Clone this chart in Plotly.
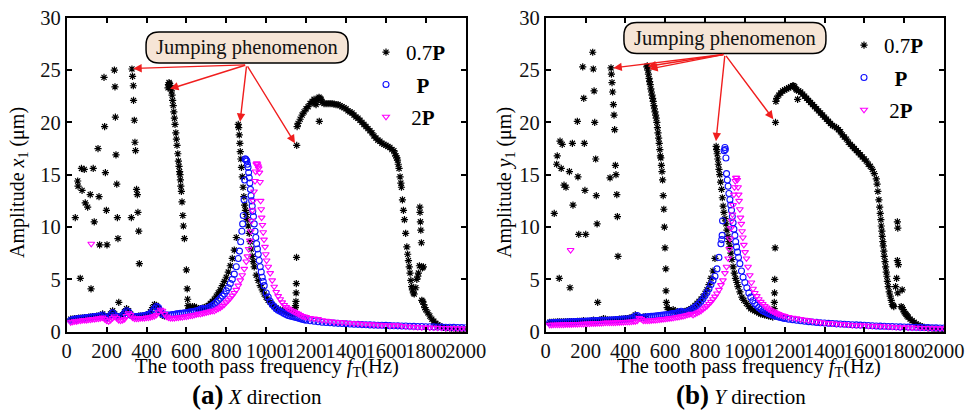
import plotly.graph_objects as go

W, H = 965, 411
SERIF = "Liberation Serif, Times New Roman, serif"


def grid(a, b, step):
    return list(range(a, b + 1, step))


def join(*segs):
    xs, ys = [], []
    for sx, sy in segs:
        assert len(sx) == len(sy), (len(sx), len(sy))
        xs += list(sx)
        ys += list(sy)
    return xs, ys


# ===================== Panel (a): X direction =====================
# --- 0.7P ---
A07_BASE_Y = [1.2, 1.2, 1.25, 1.25, 1.3, 1.3, 1.3, 1.35, 1.35, 1.4,
              1.4, 1.45, 1.45, 1.5, 1.5, 1.55, 1.7, 1.5, 1.3, 1.4,
              1.7, 2.0, 1.7, 1.5, 1.45, 1.5, 1.6, 1.9, 2.2, 2.0,
              1.7, 1.5, 1.45, 1.45, 1.5, 1.5, 1.5, 1.55, 1.6, 1.7,
              1.9, 2.3, 2.6, 2.5, 2.2, 1.8, 1.6, 1.5, 1.5]          # f = 20..500 step 10
A07_LOW_X = [43, 55, 57, 68, 74, 77, 88, 93, 105, 118, 122, 133, 138, 157, 162, 165, 187, 190, 194, 199, 202,
             239, 242, 244, 247, 251, 254, 257, 261, 324, 327, 330, 334, 335, 339, 342, 345, 350, 354, 357, 361, 364]
A07_LOW_Y = [10.9, 14.4, 13.9, 5.1, 15.6, 13.5, 15.5, 12.3, 11.9, 13.1, 4.1, 15.6, 10.5, 17.5, 12.9, 8.3, 24.3, 19.6, 15.2, 11.6, 8.3,
             25.0, 23.4, 20.5, 16.9, 14.1, 10.9, 8.9, 2.8, 10.9, 25.1, 24.4, 23.5, 22.1, 20.2, 18.1, 17.3, 13.6, 13.1, 11.4, 9.6, 6.5]
A07_DESC_X = [508, 510, 513, 516, 519, 522, 525, 528, 531, 534, 537, 540, 543, 547, 550, 553, 557, 560, 563, 566,
              568, 570, 572, 575, 578, 582, 585, 590, 600, 604, 606, 608, 612]
A07_DESC_Y = [23.3, 23.6, 23.8, 23.7, 23.5, 23.3, 23.0, 22.6, 22.1, 21.6, 21.0, 20.4, 19.8, 19.0, 18.4, 17.8, 17.0, 16.3, 15.8, 15.3,
              15.0, 14.5, 13.9, 13.4, 12.4, 11.1, 10.1, 8.9, 5.9, 4.1, 3.1, 2.5, 2.2]
A07_MID_Y = [2.3, 2.4, 2.4, 2.3, 2.2, 2.2, 2.25, 2.3, 2.4, 2.5,
             2.7, 2.9, 3.1, 3.4, 3.7, 4.0, 4.4, 4.8, 5.2, 5.7,
             6.3, 7.0, 7.8, 9.0]                                      # f = 620..850 step 10
A07_PEAK_X = [860, 862, 865, 868, 870, 873, 876, 880, 884, 888, 892, 896, 900, 905, 910, 915, 920, 925, 930, 935,
              940, 950, 960, 970, 980, 990, 1000]
A07_PEAK_Y = [19.8, 19.5, 18.8, 18.0, 17.2, 16.5, 15.7, 14.8, 13.8, 12.9, 12.1, 11.6, 11.2, 10.7, 10.1, 9.4, 8.6, 7.9, 7.2, 6.7,
              6.2, 5.4, 4.9, 4.4, 4.0, 3.6, 3.3]
A07_LOWTAIL_Y = [3.0, 2.8, 2.6, 2.4, 2.25, 2.15, 2.05, 2.0, 1.95, 1.9, 1.85, 1.8, 1.75, 1.7]  # f = 1010..1140
A07_JUMP_X = [1146, 1147, 1149, 1150, 1151, 1152]
A07_JUMP_Y = [2.3, 2.5, 2.9, 3.7, 4.6, 7.1]
A07_UP_X = [1153, 1155, 1160, 1170, 1180, 1190, 1200, 1210, 1220, 1230, 1240, 1245, 1250, 1255, 1260, 1265, 1266, 1270, 1275, 1280]
A07_UP_Y = [17.8, 19.6, 19.9, 20.3, 20.7, 21.0, 21.3, 21.5, 21.8, 22.0, 22.2, 21.8, 21.7, 22.1, 22.3, 22.4, 20.1, 22.3, 22.2, 21.9]
A07_PLAT_Y = [21.8, 21.8, 21.8, 21.8, 21.8, 21.75, 21.7, 21.7, 21.6, 21.5,
              21.4, 21.3, 21.1, 21.0, 20.9, 20.7, 20.5, 20.4, 20.2, 20.0,
              19.8, 19.6, 19.4, 19.2, 19.0, 18.7, 18.5, 18.3, 18.2, 18.0,
              17.9, 17.8, 17.7, 17.6, 17.4, 17.3]                    # f = 1290..1640 step 10
A07_DROP_X = [1645, 1650, 1655, 1658, 1662, 1666, 1671, 1675, 1678, 1683, 1688, 1693, 1699, 1705, 1709, 1713, 1717,
              1721, 1725, 1729, 1733, 1738, 1742]
A07_DROP_Y = [17.0, 16.8, 16.6, 16.4, 16.0, 15.6, 14.8, 14.2, 13.8, 12.6, 11.6, 10.7, 9.4, 8.1, 7.4, 6.8, 6.2,
              5.6, 4.9, 4.3, 4.0, 3.7, 3.6]
A07_BR2_X = [1750, 1755, 1760, 1763, 1768, 1770, 1771, 1773, 1775, 1778, 1783, 1788]
A07_BR2_Y = [4.2, 5.0, 5.3, 5.6, 6.3, 11.9, 11.4, 10.5, 9.7, 8.5, 6.1, 6.2]
A07_TAIL_X = [1780, 1785, 1790, 1795, 1800, 1810, 1820, 1830, 1840, 1850, 1860, 1870, 1880, 1890, 1900, 1920, 1940, 1960, 1980, 2000]
A07_TAIL_Y = [3.0, 2.9, 2.6, 2.3, 2.1, 1.8, 1.5, 1.2, 1.0, 0.8, 0.65, 0.55, 0.45, 0.4, 0.35, 0.3, 0.25, 0.22, 0.2, 0.2]

# --- P ---
A1_LOW_Y = [1.1, 1.15, 1.2, 1.2, 1.25, 1.25, 1.3, 1.3, 1.35, 1.35,
            1.4, 1.4, 1.45, 1.45, 1.5, 1.5, 1.6, 1.4, 1.3, 1.4,
            1.6, 1.8, 1.6, 1.45, 1.4, 1.45, 1.55, 1.8, 2.0, 1.9,
            1.6, 1.5, 1.45, 1.45, 1.45, 1.5, 1.5, 1.55, 1.6, 1.65,
            1.75, 1.95, 2.2, 2.4, 2.3, 2.0, 1.7, 1.6, 1.6, 1.6,
            1.6, 1.65, 1.65, 1.7, 1.7, 1.75, 1.75, 1.8, 1.8, 1.85,
            1.9, 1.9, 1.95, 2.0, 2.05, 2.15, 2.2, 2.15, 2.2, 2.3,
            2.4, 2.5, 2.65, 2.8, 3.0, 3.2, 3.4, 3.6, 3.9, 4.2,
            4.6, 5.0, 5.5, 6.2, 7.0]                                  # f = 20..860 step 10
A1_PEAK_X = [866, 872, 878, 882, 885, 889, 892, 894, 897, 900, 903, 906, 909, 912, 915, 918, 921, 924, 927, 930,
             933, 936, 940, 944, 948, 952, 956, 960, 965, 970, 975, 980, 985, 990, 1000]
A1_PEAK_Y = [7.7, 8.6, 9.6, 10.3, 11.1, 12.6, 14.5, 16.5, 16.5, 16.4, 16.3, 16.0, 15.7, 15.2, 14.7, 14.2, 13.6, 13.0, 12.5, 12.0,
             11.5, 11.0, 10.3, 9.6, 9.0, 8.4, 7.9, 7.4, 6.8, 6.2, 5.7, 5.2, 4.8, 4.4, 3.7]
A1_MID_Y = [3.3, 2.9, 2.6, 2.4, 2.2, 2.05, 1.95, 1.85, 1.75, 1.65,
            1.55, 1.5, 1.45, 1.4, 1.35, 1.3, 1.25, 1.2, 1.15, 1.1]   # f = 1010..1200 step 10
A1_TAIL_Y = [1.05, 1.0, 0.95, 0.9, 0.88, 0.85, 0.82, 0.8, 0.78, 0.75,
             0.73, 0.71, 0.7, 0.68, 0.66, 0.65, 0.63, 0.62, 0.61, 0.6,
             0.58, 0.57, 0.56, 0.55, 0.54, 0.52, 0.51, 0.5, 0.49, 0.48,
             0.47, 0.46, 0.45, 0.44, 0.43, 0.42, 0.41, 0.4, 0.39, 0.38]  # f = 1220..2000 step 20

# --- 2P ---
A2_OUT_X = [123]
A2_OUT_Y = [8.4]
A2_LOW_Y = [0.9, 0.95, 1.0, 1.0, 1.05, 1.05, 1.1, 1.1, 1.1, 1.15,
            1.15, 1.2, 1.2, 1.25, 1.25, 1.3, 1.35, 1.2, 1.05, 1.0,
            1.1, 1.3, 1.45, 1.3, 1.1, 1.05, 1.1, 1.2, 1.5, 1.75,
            1.6, 1.35, 1.25, 1.25, 1.25, 1.3, 1.3, 1.3, 1.35, 1.35,
            1.4, 1.45, 1.5, 1.6, 1.85, 2.1, 2.0, 1.7, 1.45, 1.35,
            1.3, 1.3, 1.3, 1.35, 1.35, 1.4, 1.4, 1.45, 1.45, 1.5,
            1.55, 1.55, 1.6, 1.65, 1.7, 1.7, 1.75, 1.8, 1.85, 1.9,
            1.95, 2.0, 2.0, 2.1, 2.2, 2.3, 2.45, 2.6, 2.8, 3.0,
            3.2, 3.45, 3.7, 4.0, 4.4, 4.9, 5.4, 6.0, 6.7]             # f = 20..900 step 10
A2_PEAK_X = [906, 912, 918, 923, 927, 931, 935, 939, 944, 947, 950, 953, 956, 959, 962, 966, 969, 972, 975, 977,
             981, 985, 989, 994, 998, 1002]
A2_PEAK_Y = [7.2, 7.9, 8.7, 9.6, 10.6, 11.6, 12.5, 13.4, 14.4, 15.3, 16.0, 16.1, 16.0, 15.8, 15.6, 15.2, 14.3, 12.5, 11.7, 10.9,
             10.2, 9.5, 8.8, 8.1, 7.4, 6.8]
A2_MID_Y = [6.2, 5.6, 4.9, 4.3, 3.8, 3.4, 3.1, 2.8, 2.55, 2.35,
            2.2, 2.1, 2.0, 1.9, 1.8, 1.7, 1.6, 1.5, 1.45, 1.4]       # f = 1010..1200 step 10
A2_TAIL_Y = [1.3, 1.25, 1.2, 1.1, 1.05, 1.0, 0.95, 0.92, 0.9, 0.86,
             0.83, 0.8, 0.78, 0.75, 0.72, 0.7, 0.68, 0.65, 0.63, 0.6,
             0.58, 0.6, 0.62, 0.55, 0.5, 0.48, 0.46, 0.44, 0.42, 0.4,
             0.39, 0.38, 0.37, 0.36, 0.35, 0.34, 0.33, 0.32, 0.31, 0.3]   # f = 1220..2000 step 20

# ===================== Panel (b): Y direction =====================
B07_BASE_Y = [0.9, 0.9, 0.92, 0.92, 0.93, 0.93, 0.94, 0.94, 0.95, 0.95,
              0.96, 0.96, 0.97, 0.97, 0.98, 0.98, 1.0, 1.05, 1.0, 0.98,
              1.0, 1.05, 1.1, 1.05, 1.05, 1.1, 1.15, 1.25, 1.2, 1.1,
              1.1, 1.1, 1.1, 1.15, 1.15, 1.2, 1.2, 1.2, 1.25, 1.25,
              1.3, 1.35, 1.45, 1.6, 1.5, 1.35, 1.35, 1.4, 1.45]       # f = 20..500 step 10
B07_LOW_X = [43, 55, 58, 68, 72, 78, 83, 92, 102, 119, 122, 134, 137, 159, 162, 166, 186, 191, 194, 197, 201,
             236, 239, 243, 246, 251, 254, 258, 261, 323, 328, 330, 333, 336, 340, 343, 346, 350, 353, 357, 360, 363]
B07_LOW_Y = [11.3, 16.0, 16.8, 5.1, 18.2, 15.6, 17.9, 14.0, 13.8, 15.3, 4.2, 18.0, 12.1, 20.1, 14.8, 9.3, 25.3, 22.3, 18.0, 13.5, 9.3,
             26.7, 25.1, 23.0, 20.0, 16.5, 13.0, 10.3, 2.8, 14.7, 25.2, 24.6, 23.8, 22.9, 21.7, 20.7, 19.3, 15.9, 15.0, 13.1, 11.0, 7.2]
B07_DESC_X = [508, 510, 513, 516, 519, 522, 525, 528, 531, 534, 537, 540, 543, 546, 549, 552, 555, 558, 561, 564,
              567, 570, 573, 576, 578, 581, 584, 587, 590, 593, 596, 599, 603, 604, 606]
B07_DESC_Y = [25.3, 25.4, 25.0, 24.6, 24.2, 23.9, 23.6, 23.2, 22.9, 22.6, 22.3, 22.0, 21.6, 21.3, 21.0, 20.7, 20.4, 20.0, 19.5, 19.0,
              18.5, 18.0, 17.4, 16.8, 16.6, 15.9, 15.3, 14.5, 13.0, 11.7, 10.0, 8.0, 6.0, 3.9, 2.8]
B07_MID_Y = [2.3, 2.1, 2.0, 2.1, 2.0, 1.9, 1.85, 1.85, 1.9, 1.95,
             2.0, 2.1, 2.2, 2.35, 2.5, 2.7, 2.9, 3.1, 3.35, 3.65,
             4.0, 4.5, 5.1, 5.8, 7.0]                                 # f = 610..850 step 10
B07_PEAK_X = [856, 858, 861, 864, 867, 870, 874, 878, 883, 887, 891, 895, 900, 905, 910, 915, 920, 925, 930, 935,
              941, 947, 953, 960, 966, 975, 985, 995, 1008]
B07_PEAK_Y = [17.7, 17.4, 17.0, 16.5, 16.0, 15.5, 15.0, 14.3, 13.6, 12.8, 12.0, 11.4, 10.8, 10.3, 9.7, 9.1, 8.6, 8.1, 7.5, 6.9,
              6.2, 5.6, 5.1, 4.7, 4.3, 3.8, 3.3, 3.0, 2.7]
B07_LOWTAIL_Y = [2.4, 2.2, 2.1, 2.0, 1.9, 1.8, 1.7, 1.65, 1.6, 1.55, 1.5, 1.45, 1.4]  # f = 1020..1140
B07_JUMP_X = [1145, 1147, 1148, 1149, 1150, 1152, 1154]
B07_JUMP_Y = [1.8, 2.2, 2.8, 3.7, 5.0, 8.0, 20.0]
B07_UP_X = [1156, 1160, 1170, 1180, 1190, 1200, 1210, 1220, 1230, 1240, 1245, 1250, 1255, 1260, 1265, 1270, 1280]
B07_UP_Y = [22.0, 22.3, 22.6, 22.8, 23.0, 23.1, 23.2, 23.3, 23.4, 23.5, 23.5, 23.4, 23.2, 23.1, 22.2, 23.0, 22.9]
B07_PLAT_Y = [22.7, 22.5, 22.3, 22.1, 21.9, 21.7, 21.5, 21.3, 21.1, 20.9,
              20.7, 20.5, 20.3, 20.1, 19.9, 19.7, 19.6, 19.5, 19.3, 19.1,
              18.8, 18.6, 18.4, 18.1, 17.9, 17.7, 17.5, 17.3, 17.1, 16.9,
              16.7, 16.5, 16.3, 16.0, 15.8, 15.5, 15.1, 14.6]        # f = 1290..1660 step 10
B07_DROP_X = [1664, 1668, 1673, 1677, 1680, 1683, 1685, 1688, 1690, 1693, 1695, 1698, 1700, 1704, 1707, 1710, 1713,
              1716, 1720, 1725, 1730, 1735, 1740, 1745, 1748]
B07_DROP_Y = [14.1, 13.4, 12.6, 11.9, 11.3, 10.7, 10.1, 9.6, 9.1, 8.6, 8.2, 7.7, 7.2, 6.7, 6.2, 5.7, 5.3,
              4.8, 4.3, 3.8, 3.4, 3.0, 2.6, 2.5, 2.4]
B07_BR2_X = [1757, 1762, 1766, 1768, 1766, 1771, 1768, 1790]
B07_BR2_Y = [4.3, 5.1, 6.8, 3.7, 10.5, 6.4, 9.9, 4.0]
B07_TAIL_X = [1785, 1790, 1795, 1800, 1805, 1810, 1815, 1820, 1830, 1840, 1850, 1860, 1870, 1880, 1890, 1900,
              1920, 1940, 1960, 1980, 2000]
B07_TAIL_Y = [2.4, 2.3, 2.1, 1.9, 1.75, 1.65, 1.5, 1.4, 1.2, 1.05, 0.9, 0.75, 0.62, 0.55, 0.48, 0.42,
              0.34, 0.28, 0.24, 0.2, 0.17]

B1_LOW_Y = [0.85, 0.86, 0.87, 0.88, 0.89, 0.9, 0.9, 0.91, 0.92, 0.93,
            0.94, 0.94, 0.95, 0.96, 0.97, 0.98, 0.99, 1.0, 1.0, 1.01,
            1.02, 1.03, 1.04, 1.05, 1.06, 1.07, 1.08, 1.1, 1.1, 1.1,
            1.11, 1.12, 1.13, 1.14, 1.15, 1.16, 1.18, 1.2, 1.21, 1.22,
            1.24, 1.27, 1.35, 1.5, 1.55, 1.4, 1.35, 1.37, 1.4, 1.42,
            1.44, 1.46, 1.48, 1.5, 1.52, 1.55, 1.57, 1.6, 1.62, 1.65,
            1.67, 1.7, 1.73, 1.76, 1.8, 1.9, 1.95, 1.85, 1.85, 1.9,
            2.0, 2.1, 2.2, 2.35, 2.5, 2.7, 2.9, 3.15, 3.45, 3.75,
            4.1, 4.5, 4.9, 5.3, 6.0, 7.1, 8.4]                        # f = 20..880 step 10
B1_PEAK_X = [884, 886, 888, 896, 900, 902, 905, 908, 912, 916, 920, 925, 929, 933, 937, 941, 945, 950, 954, 958,
             963, 968, 975, 983, 991, 1000]
B1_PEAK_Y = [8.8, 9.2, 10.6, 17.3, 17.6, 17.4, 16.6, 15.1, 14.5, 13.9, 13.2, 12.6, 12.1, 11.6, 11.0, 10.4, 9.8, 9.2, 8.6, 8.1,
             7.6, 7.1, 6.5, 5.8, 5.2, 4.7]
B1_MID_Y = [4.2, 3.7, 3.3, 2.95, 2.7, 2.5, 2.3, 2.15, 2.0, 1.9,
            1.8, 1.72, 1.65, 1.58, 1.52, 1.46, 1.41, 1.36, 1.31, 1.27]  # f = 1010..1200 step 10
B1_TAIL_Y = [1.2, 1.15, 1.1, 1.05, 1.0, 0.96, 0.92, 0.89, 0.86, 0.83,
             0.8, 0.78, 0.75, 0.73, 0.71, 0.69, 0.67, 0.65, 0.63, 0.61,
             0.59, 0.57, 0.55, 0.53, 0.52, 0.5, 0.49, 0.48, 0.46, 0.45,
             0.44, 0.43, 0.42, 0.41, 0.4, 0.39, 0.38, 0.37, 0.36, 0.35]  # f = 1220..2000 step 20

B2_OUT_X = [125]
B2_OUT_Y = [7.8]
B2_LOW_Y = [0.65, 0.66, 0.67, 0.67, 0.68, 0.68, 0.69, 0.69, 0.7, 0.7,
            0.71, 0.71, 0.72, 0.72, 0.73, 0.74, 0.75, 0.75, 0.76, 0.77,
            0.78, 0.79, 0.8, 0.8, 0.81, 0.82, 0.83, 0.84, 0.86, 0.88,
            0.86, 0.86, 0.87, 0.88, 0.89, 0.9, 0.91, 0.92, 0.93, 0.94,
            0.95, 0.97, 0.98, 1.0, 1.05, 1.3, 1.2, 1.05, 1.05, 1.06,
            1.07, 1.08, 1.1, 1.12, 1.14, 1.16, 1.18, 1.2, 1.22, 1.25,
            1.28, 1.3, 1.33, 1.36, 1.4, 1.43, 1.47, 1.5, 1.55, 1.6,
            1.65, 1.7, 1.6, 1.7, 1.8, 1.9, 2.0, 2.15, 2.3, 2.45,
            2.65, 2.85, 3.1, 3.35, 3.65, 4.0, 4.45, 4.9, 5.6]         # f = 20..900 step 10
B2_PEAK_X = [908, 916, 921, 925, 930, 934, 938, 941, 945, 948, 952, 955, 958, 962, 966, 969, 971, 975, 978, 982,
             986, 990, 995, 1001, 1008]
B2_PEAK_Y = [6.2, 7.0, 7.9, 8.9, 9.9, 10.6, 11.2, 12.1, 13.1, 13.8, 14.4, 14.7, 14.7, 14.5, 13.8, 13.1, 12.5, 11.7, 10.9, 10.3,
             9.6, 9.0, 8.3, 7.6, 7.0]
B2_MID_X = [1016, 1025, 1033, 1041, 1050, 1060, 1070, 1080, 1090, 1100, 1110, 1120, 1130, 1140, 1150, 1160, 1170, 1180, 1190, 1200]
B2_MID_Y = [6.2, 5.4, 4.7, 4.1, 3.7, 3.4, 3.1, 2.85, 2.65, 2.45, 2.3, 2.15, 2.05, 1.95, 1.85, 1.75, 1.68, 1.6, 1.55, 1.5]
B2_TAIL_Y = [1.4, 1.33, 1.27, 1.2, 1.14, 1.08, 1.02, 0.96, 0.9, 0.85,
             0.82, 0.79, 0.76, 0.73, 0.7, 0.67, 0.64, 0.62, 0.6, 0.58,
             0.56, 0.55, 0.56, 0.54, 0.5, 0.48, 0.46, 0.44, 0.42, 0.41,
             0.4, 0.39, 0.38, 0.37, 0.36, 0.35, 0.34, 0.33, 0.32, 0.31]  # f = 1220..2000 step 20

X_TICKS = [0, 200, 400, 600, 800, 1000, 1200, 1400, 1600, 1800, 2000]
Y_TICKS = [0, 5, 10, 15, 20, 25, 30]
SERIES_NAMES = ["0.7<b>P</b>", "  <b>P</b>", " 2<b>P</b>"]

# ---- assemble series ----
a07 = join((grid(20, 500, 10), A07_BASE_Y), (A07_LOW_X, A07_LOW_Y), (A07_DESC_X, A07_DESC_Y),
           (grid(620, 850, 10), A07_MID_Y), (A07_PEAK_X, A07_PEAK_Y), (grid(1010, 1140, 10), A07_LOWTAIL_Y),
           (A07_JUMP_X, A07_JUMP_Y), (A07_UP_X, A07_UP_Y), (grid(1290, 1640, 10), A07_PLAT_Y),
           (A07_DROP_X, A07_DROP_Y), (A07_BR2_X, A07_BR2_Y), (A07_TAIL_X, A07_TAIL_Y))
a1 = join((grid(20, 860, 10), A1_LOW_Y), (A1_PEAK_X, A1_PEAK_Y), (grid(1010, 1200, 10), A1_MID_Y),
          (grid(1220, 2000, 20), A1_TAIL_Y))
a2 = join((A2_OUT_X, A2_OUT_Y), (grid(20, 900, 10), A2_LOW_Y), (A2_PEAK_X, A2_PEAK_Y),
          (grid(1010, 1200, 10), A2_MID_Y), (grid(1220, 2000, 20), A2_TAIL_Y))
b07 = join((grid(20, 500, 10), B07_BASE_Y), (B07_LOW_X, B07_LOW_Y), (B07_DESC_X, B07_DESC_Y),
           (grid(610, 850, 10), B07_MID_Y), (B07_PEAK_X, B07_PEAK_Y), (grid(1020, 1140, 10), B07_LOWTAIL_Y),
           (B07_JUMP_X, B07_JUMP_Y), (B07_UP_X, B07_UP_Y), (grid(1290, 1660, 10), B07_PLAT_Y),
           (B07_DROP_X, B07_DROP_Y), (B07_BR2_X, B07_BR2_Y), (B07_TAIL_X, B07_TAIL_Y))
b1 = join((grid(20, 880, 10), B1_LOW_Y), (B1_PEAK_X, B1_PEAK_Y), (grid(1010, 1200, 10), B1_MID_Y),
          (grid(1220, 2000, 20), B1_TAIL_Y))
b2 = join((B2_OUT_X, B2_OUT_Y), (grid(20, 900, 10), B2_LOW_Y), (B2_PEAK_X, B2_PEAK_Y),
          (B2_MID_X, B2_MID_Y), (grid(1220, 2000, 20), B2_TAIL_Y))

STYLES = [
    dict(symbol="asterisk", size=6, color="black", line=dict(color="black", width=1.2)),
    dict(symbol="circle-open", size=6, color="#1010ff", line=dict(color="#1010ff", width=1.1)),
    dict(symbol="triangle-down-open", size=6, color="#ff00ff", line=dict(color="#ff00ff", width=1.1)),
]

fig = go.Figure()
for (xa, ya, leg), series in [(("x", "y", "legend"), [a07, a1, a2]), (("x2", "y2", "legend2"), [b07, b1, b2])]:
    for i, (sx, sy) in enumerate(series):
        fig.add_trace(go.Scatter(x=sx, y=sy, mode="markers", name=SERIES_NAMES[i], marker=STYLES[i],
                                 xaxis=xa, yaxis=ya, legend=leg, legendgroup=f"{leg}{i}"))


def px2x(px):
    return px / W


def py2y(py):
    return 1 - py / H


axis_common = dict(showline=True, linecolor="black", linewidth=1.6, mirror="ticks", ticks="inside",
                   ticklen=5, tickwidth=1.5, tickcolor="black", showgrid=False, zeroline=False, automargin=False,
                   tickfont=dict(family=SERIF, size=20.5, color="#111"))
YD = [py2y(331.7), py2y(17.7)]
fig.update_layout(
    template="none",
    width=W, height=H, autosize=False, margin=dict(l=0, r=0, t=0, b=0, pad=0),
    paper_bgcolor="white", plot_bgcolor="white",
    font=dict(family=SERIF, size=20, color="black"),
    xaxis=dict(domain=[px2x(66.7), px2x(465.7)], range=[0, 2000], tickvals=X_TICKS, tickangle=0, anchor="y", **axis_common),
    yaxis=dict(domain=YD, range=[0, 30], tickvals=Y_TICKS, anchor="x", **axis_common),
    xaxis2=dict(domain=[px2x(545.7), px2x(944)], range=[0, 2000], tickvals=X_TICKS, tickangle=0, anchor="y2", **axis_common),
    yaxis2=dict(domain=YD, range=[0, 30], tickvals=Y_TICKS, anchor="x2", **axis_common),
    legend=dict(x=px2x(366), y=py2y(32), xanchor="left", yanchor="top", bgcolor="rgba(0,0,0,0)",
                font=dict(family=SERIF, size=21, color="black"), tracegroupgap=2),
    legend2=dict(x=px2x(844), y=py2y(25), xanchor="left", yanchor="top", bgcolor="rgba(0,0,0,0)",
                 font=dict(family=SERIF, size=21, color="black"), tracegroupgap=2),
    showlegend=True,
)

annotations = []
# text labels: (x-title centre, subtitle centre, y-title centre x)
LABELS = [
    (267, 257, 18, "<span style='font-size:27px'><b>(a)</b></span> <i>X</i> direction", "Amplitude <i>x</i><sub>1</sub> (μm)"),
    (749, 741, 505, "<span style='font-size:27px'><b>(b)</b></span> <i>Y</i> direction", "Amplitude <i>y</i><sub>1</sub> (μm)"),
]
for cx_t, cx_s, cx_y, sub, ytl in LABELS:
    annotations.append(dict(text="The tooth pass frequency <i>f</i><sub>T</sub>(Hz)", x=px2x(cx_t), y=py2y(367),
                            xref="paper", yref="paper", xanchor="center", yanchor="middle", showarrow=False,
                            font=dict(size=20.5)))
    annotations.append(dict(text=sub, x=px2x(cx_s), y=py2y(395), xref="paper", yref="paper",
                            xanchor="center", yanchor="middle", showarrow=False, font=dict(size=21)))
    annotations.append(dict(text=ytl, x=px2x(cx_y), y=py2y(183), xref="paper", yref="paper",
                            xanchor="center", yanchor="middle", showarrow=False, textangle=-90, font=dict(size=20)))

# Jumping phenomenon callouts: (axis, box centre, arrow origin, arrow tips)
CALLOUTS = [
    ("x", "y", (904, 27.15), (902, 25.5), [(334, 25.15), (518, 23.2), (869, 20.05), (1144, 18.0)]),
    ("x2", "y2", (900, 28.05), (900, 26.5), [(340, 25.2), (512, 25.35), (520, 25.1), (855, 18.2), (1143, 20.3)]),
]
shapes = []
BW, BH, R = 202, 31, 13
path = (f"M {-BW/2+R},{-BH/2} L {BW/2-R},{-BH/2} Q {BW/2},{-BH/2} {BW/2},{-BH/2+R} "
        f"L {BW/2},{BH/2-R} Q {BW/2},{BH/2} {BW/2-R},{BH/2} L {-BW/2+R},{BH/2} "
        f"Q {-BW/2},{BH/2} {-BW/2},{BH/2-R} L {-BW/2},{-BH/2+R} Q {-BW/2},{-BH/2} {-BW/2+R},{-BH/2} Z")
for xr, yr, (bx, by), (ox, oy), tips in CALLOUTS:
    shapes.append(dict(type="path", xref=xr, yref=yr, xsizemode="pixel", ysizemode="pixel",
                       xanchor=bx, yanchor=by, path=path, fillcolor="#f6e5d6",
                       line=dict(color="black", width=1.5), layer="above"))
    annotations.append(dict(text="Jumping phenomenon", x=bx, y=by, xref=xr, yref=yr, showarrow=False,
                            xanchor="center", yanchor="middle", font=dict(size=20.5, color="#111")))
    for tx, ty in tips:
        annotations.append(dict(text="", x=tx, y=ty, xref=xr, yref=yr, ax=ox, ay=oy, axref=xr, ayref=yr,
                                showarrow=True, arrowhead=2, arrowsize=1.2, arrowwidth=1.4,
                                arrowcolor="#f01e1e", standoff=0, startstandoff=0))

fig.update_layout(annotations=annotations, shapes=shapes)
fig.write_html("out.html")
